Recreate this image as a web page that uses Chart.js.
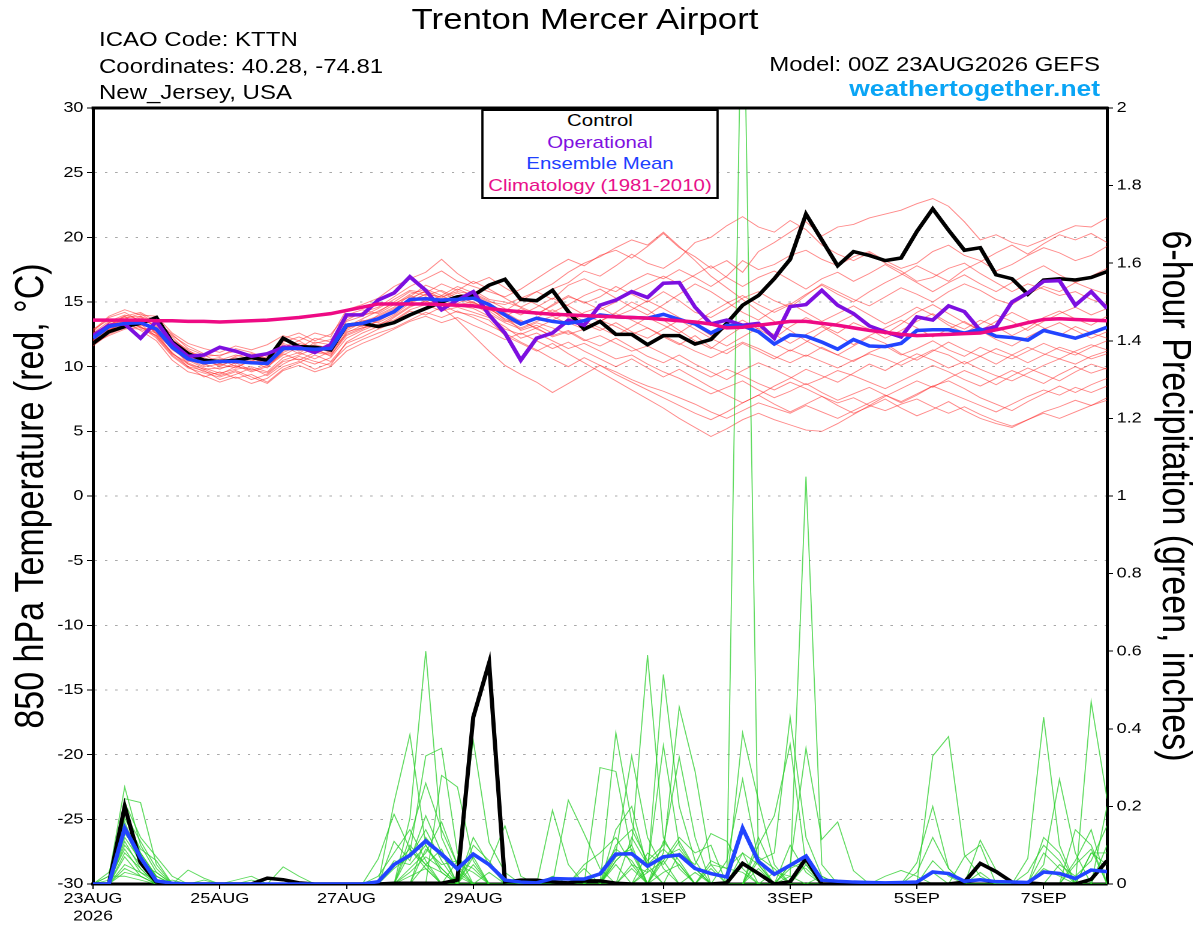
<!DOCTYPE html>
<html>
<head>
<meta charset="utf-8">
<title>Trenton Mercer Airport - GEFS</title>
<script src="https://cdn.jsdelivr.net/npm/chart.js@4/dist/chart.umd.min.js"></script>
<style>
html, body { margin: 0; padding: 0; background: #fff; overflow: hidden; }
/* the source picture is drawn 1000 wide and stretched to 1200 */
#page { position: relative; width: 1000px; height: 927px; transform: scaleX(1.2); transform-origin: 0 0;
        font-family: 'Liberation Sans', Arial, Helvetica, sans-serif; color: #000; }
#page canvas { position: absolute; left: 0; top: 0; }
.txt { position: absolute; white-space: nowrap; line-height: 1; }
#legend { position: absolute; left: 400.8px; top: 109px; width: 198.4px; height: 90px;
          box-sizing: border-box; border: 2px solid #000; background: #fff; }
.leg { position: absolute; left: 400.8px; width: 198.4px; text-align: center; font-size: 17px; line-height: 1; white-space: nowrap; }
</style>
</head>
<body>
<div id="page">
  <canvas id="chart" width="1000" height="927"></canvas>
  <div class="txt" style="left:0; width:975px; text-align:center; top:4.8px; font-size:29px;">Trenton Mercer Airport</div>
  <div class="txt" style="left:82.5px; top:29.1px; font-size:20px;">ICAO Code: KTTN</div>
  <div class="txt" style="left:82.5px; top:55.7px; font-size:20px;">Coordinates: 40.28, -74.81</div>
  <div class="txt" style="left:82.5px; top:82.3px; font-size:20px;">New_Jersey, USA</div>
  <div class="txt" style="right:83.3px; top:54.1px; font-size:20px;">Model: 00Z 23AUG2026 GEFS</div>
  <div class="txt" style="right:83.3px; top:78.4px; font-size:22px; font-weight:bold; color:#0aa5f5;">weathertogether.net</div>
  <div id="legend"></div>
  <div class="leg" style="top:112.1px; color:#000;">Control</div>
  <div class="leg" style="top:133.6px; color:#8010e0;">Operational</div>
  <div class="leg" style="top:155.1px; color:#2040ff;">Ensemble Mean</div>
  <div class="leg" style="top:176.6px; color:#e8108a;">Climatology (1981-2010)</div>
</div>
<script>
/* forecast hours, 00Z 23AUG2026 + 0..384 h every 6 h */
const hours = [0,6,12,18,24,30,36,42,48,54,60,66,72,78,84,90,96,102,108,114,120,126,132,138,144,150,156,162,
  168,174,180,186,192,198,204,210,216,222,228,234,240,246,252,258,264,270,276,282,288,294,300,306,312,318,
  324,330,336,342,348,354,360,366,372,378,384];

/* x axis labels */
const tickHours  = [0, 48, 96, 144, 216, 264, 312, 360];
const tickLabels = [['23AUG', '2026'], '25AUG', '27AUG', '29AUG', '1SEP', '3SEP', '5SEP', '7SEP'];

/* 850 hPa temperature (C) */
const ctlT  = [11.8,12.7,13.1,13.35, 13.8,11.9,11.0,10.5, 10.4,10.5,10.7,10.5, 12.2,11.55,11.5,11.3, 13.2,13.35,13.1,13.4,
  14.0,14.5,15.0,15.4, 15.5,16.3,16.75,15.2, 15.1,15.9,14.25,12.9, 13.5,12.5,12.5,11.7, 12.4,12.4,11.75,12.1,
  13.35,14.75,15.5,16.8, 18.3,21.8,19.8,17.8, 18.9,18.6,18.2,18.4, 20.45,22.2,20.55,19.0, 19.2,17.1,16.8,15.6,
  16.7,16.8,16.7,16.9, 17.35];
const opT   = [12.4,13.2,13.3,12.2, 13.5,11.8,10.8,10.9, 11.5,11.2,10.8,11.0, 11.5,11.5,11.1,11.7, 14.0,14.0,15.15,15.7,
  16.95,15.9,14.4,15.15, 15.8,14.0,12.6,10.5, 12.2,12.6,13.6,13.2, 14.75,15.15,15.8,15.35, 16.45,16.5,14.6,13.3,
  13.6,13.2,13.35,12.2, 14.65,14.8,15.9,14.75, 14.1,13.15,12.7,12.3, 13.85,13.6,14.7,14.25, 12.8,13.1,15.0,15.7,
  16.6,16.65,14.75,15.8, 14.5];
const ensT  = [12.2,13.1,13.35,13.4, 12.9,11.5,10.6,10.3, 10.4,10.4,10.3,10.25, 11.4,11.4,11.35,11.4, 13.2,13.35,13.7,14.25,
  15.2,15.25,15.15,15.2, 15.3,14.8,14.0,13.3, 13.75,13.5,13.35,13.55, 14.0,13.85,13.8,13.75, 14.05,13.65,13.3,12.6,
  13.2,13.15,12.7,11.75, 12.45,12.35,11.9,11.35, 12.1,11.6,11.55,11.8, 12.8,12.85,12.85,12.6, 12.9,12.35,12.25,12.05,
  12.8,12.5,12.2,12.6, 13.05];
const climT = [13.6,13.6,13.6,13.6, 13.55,13.55,13.5,13.5, 13.45,13.5,13.55,13.6, 13.7,13.8,13.95,14.1, 14.35,14.6,14.85,14.85,
  14.85,14.85,14.8,14.75, 14.7,14.5,14.35,14.25, 14.15,14.05,14.0,13.95, 13.9,13.85,13.8,13.75, 13.65,13.55,13.45,13.3,
  13.0,13.05,13.2,13.35, 13.5,13.5,13.35,13.2, 13.0,12.8,12.65,12.5, 12.4,12.45,12.5,12.55, 12.6,12.85,13.1,13.4,
  13.65,13.7,13.65,13.6, 13.55];

/* ensemble members, temperature */
const t01 = [12.6,13.5,14.0,13.6, 13.2,12.0,11.2,10.8, 10.9,11.2,10.6,10.9, 11.9,12.3,11.8,12.1, 13.6,14.2,14.6,15.4, 16.2,16.8,17.4,16.6, 16.2,15.8,15.4,16.0, 16.8,17.6,18.3,17.8, 18.6,19.0,18.4,19.3, 20.3,19.2,18.5,17.6, 18.2,17.3,18.9,19.6, 20.4,21.2,20.1,20.8, 21.0,21.5,21.8,22.1, 22.6,23.0,22.4,21.2, 19.8,20.2,19.6,19.3, 19.8,20.4,20.9,20.8, 21.5];
const t02 = [12.0,13.4,13.8,13.9, 13.4,12.3,11.1,10.7, 10.2,10.8,11.0,10.5, 11.6,11.0,11.9,11.7, 13.8,14.0,14.2,15.0, 15.8,15.5,15.9,15.3, 15.9,15.2,15.0,14.6, 15.2,16.0,16.5,17.4, 17.0,17.8,18.7,18.0, 17.6,18.4,19.6,20.0, 20.9,21.6,20.8,20.4, 21.3,20.6,19.4,18.7, 18.2,18.8,18.0,17.4, 16.6,16.9,17.6,18.0, 17.2,16.5,15.8,16.4, 16.0,15.5,15.8,15.2, 14.8];
const t03 = [12.4,13.0,13.2,13.6, 12.6,11.0,10.2,9.8, 9.9,10.1,9.6,10.0, 10.9,11.5,11.2,11.0, 12.7,13.0,13.5,14.2, 15.0,15.6,15.4,15.8, 15.6,15.0,14.8,15.3, 15.8,15.2,16.3,16.8, 16.2,15.8,16.6,17.2, 16.8,17.5,16.9,16.2, 17.0,18.2,17.5,17.9, 18.6,19.0,18.3,17.8, 18.5,18.9,18.2,17.6, 18.0,18.9,19.4,18.6, 18.2,17.4,17.9,18.6, 19.2,18.8,18.2,18.6, 19.3];
const t04 = [11.8,12.8,13.5,13.2, 13.0,11.8,10.9,10.1, 10.6,10.0,10.4,9.9, 11.2,11.7,11.0,11.6, 13.3,13.1,14.0,14.6, 15.5,15.0,15.5,14.8, 15.0,14.4,13.9,14.5, 14.0,14.8,15.5,14.9, 15.4,16.2,15.6,15.0, 15.8,15.1,14.2,13.8, 14.5,15.3,15.8,15.1, 14.6,15.5,16.4,15.8, 15.2,14.7,15.4,16.1, 15.6,15.0,15.8,16.4, 15.9,15.2,14.8,15.6, 16.2,15.8,16.5,16.0, 15.6];
const t05 = [12.9,13.6,13.1,13.7, 12.5,11.4,10.4,10.6, 10.0,10.6,10.2,10.8, 11.7,11.2,11.6,11.3, 12.9,13.6,13.4,14.0, 14.9,15.4,14.8,15.5, 14.9,14.6,13.6,13.0, 13.5,13.9,13.3,14.2, 14.6,13.9,14.4,15.1, 14.5,13.8,13.2,12.4, 13.0,13.6,12.9,12.2, 13.1,13.8,13.2,12.6, 13.4,12.9,12.2,12.8, 13.5,14.1,13.4,12.9, 13.6,13.1,12.4,13.0, 13.8,14.3,13.7,13.2, 13.9];
const t06 = [12.2,13.2,13.9,13.0, 12.8,11.6,10.2,9.6, 9.4,10.0,9.8,9.5, 10.5,10.9,11.4,10.8, 12.6,13.2,13.0,13.8, 14.6,15.1,14.5,14.9, 15.4,14.6,13.9,12.8, 13.2,12.6,13.4,12.9, 13.6,13.1,12.5,13.0, 12.3,11.7,12.4,11.5, 11.0,11.8,11.2,10.6, 11.3,10.8,11.5,10.9, 10.4,11.1,11.6,10.9, 11.4,12.0,11.3,10.8, 11.5,11.0,10.6,11.2, 11.8,11.3,10.9,11.5, 12.0];
const t07 = [12.5,13.3,13.6,13.1, 12.2,10.8,9.9,9.5, 9.2,9.6,9.0,9.4, 10.4,10.6,10.2,10.7, 12.2,12.8,13.3,13.6, 14.4,14.8,14.3,14.6, 14.2,13.8,13.1,12.2, 12.6,12.0,11.4,11.8, 11.2,10.6,10.9,10.2, 9.6,9.1,8.5,7.9, 8.4,8.9,8.2,7.6, 8.1,8.7,8.0,7.4, 7.9,8.4,7.8,7.2, 7.8,8.5,8.9,8.3, 7.6,7.1,6.6,7.3, 7.9,8.5,8.0,8.6, 9.1];
const t08 = [12.0,12.7,13.0,12.9, 12.4,11.1,10.0,9.2, 9.6,9.1,9.4,8.8, 9.8,10.3,10.9,10.4, 11.8,12.3,12.9,13.4, 13.9,14.5,14.8,14.2, 14.0,13.6,12.4,11.8, 11.2,11.8,11.0,10.3, 9.6,8.9,8.2,7.5, 6.8,6.0,5.3,4.6, 5.2,5.9,6.4,5.9, 5.5,5.1,5.0,5.6, 6.3,7.0,7.7,8.3, 8.9,8.4,9.1,9.7, 9.2,8.6,9.3,9.9, 9.4,8.9,9.6,10.2, 9.8];
const t09 = [12.7,13.8,14.2,13.5, 13.6,12.4,11.6,11.0, 10.8,11.4,11.1,10.6, 12.2,12.6,12.0,12.5, 14.0,14.4,14.1,14.8, 15.6,16.0,15.5,16.2, 15.7,15.1,14.5,14.0, 14.6,15.3,14.7,14.0, 13.5,14.2,15.0,14.4, 13.6,12.8,12.0,11.4, 12.3,13.1,12.6,11.8, 11.2,11.9,12.7,13.4, 14.0,13.2,12.5,13.3, 14.2,14.8,14.1,13.4, 12.8,13.5,14.2,13.6, 13.0,12.4,13.1,12.6, 12.2];
const t10 = [11.9,12.9,13.3,13.8, 13.1,11.9,10.7,10.2, 9.8,10.3,9.7,10.1, 11.0,10.5,11.1,10.9, 12.4,12.9,13.6,14.1, 15.1,15.6,15.0,15.4, 15.0,14.3,13.5,13.6, 12.9,12.4,12.8,12.1, 11.6,12.2,11.5,10.8, 10.3,10.9,10.2,9.6, 9.0,9.7,10.3,9.8, 9.2,8.6,9.1,9.7, 9.3,8.8,8.3,8.9, 9.5,10.1,9.6,9.0, 8.5,9.1,9.7,9.2, 8.7,9.4,10.0,9.5, 9.9];
const t11 = [12.3,13.1,13.7,14.1, 13.3,12.1,11.3,10.5, 10.7,10.2,10.9,10.3, 11.5,12.0,11.3,11.8, 13.1,13.7,14.3,14.9, 15.4,16.3,15.8,15.1, 15.5,14.7,14.3,15.1, 15.8,16.4,17.3,18.0, 18.5,19.2,19.8,19.4, 20.4,19.3,18.2,17.0, 16.1,15.2,14.3,13.5, 12.8,12.0,11.4,10.9, 11.6,12.3,11.8,11.0, 10.5,11.2,11.9,11.3, 10.8,10.2,10.9,11.5, 11.0,10.6,11.2,11.7, 11.3];
const t12 = [12.1,12.6,13.2,13.4, 12.7,11.3,10.5,9.9, 9.5,9.8,10.0,9.6, 10.7,11.1,10.6,11.2, 12.5,13.0,13.2,13.9, 14.7,14.9,15.2,14.7, 14.5,13.9,12.9,12.5, 13.0,12.3,12.7,12.0, 12.4,11.8,11.2,11.6, 11.0,10.4,9.8,9.2, 9.8,9.3,8.7,8.2, 8.8,8.3,7.7,7.2, 7.6,7.0,6.6,7.1, 7.5,6.9,6.4,6.9, 6.3,5.8,5.4,5.9, 6.5,6.9,7.4,7.0, 7.6];
const t13 = [12.8,13.9,14.4,14.0, 13.9,12.6,11.8,11.4, 11.1,11.6,11.3,11.7, 12.4,12.0,12.6,12.3, 14.4,14.8,15.3,16.2, 16.8,17.3,18.3,17.2, 16.4,16.9,16.1,15.4, 14.8,14.2,14.8,15.5, 16.0,15.3,14.6,14.0, 14.8,15.6,16.4,15.8, 15.0,14.2,13.6,14.4, 14.9,14.2,13.5,14.1, 14.7,14.0,13.3,13.9, 14.6,14.0,13.2,12.6, 13.3,14.0,13.5,12.8, 13.5,14.1,14.6,14.0, 14.5];
const t14 = [11.6,12.5,13.0,13.3, 12.3,10.9,10.0,9.7, 9.0,9.4,9.9,9.3, 10.2,10.8,10.4,10.1, 11.9,12.6,13.1,13.5, 14.3,14.0,14.6,13.6, 12.4,11.2,10.1,9.4, 8.8,8.0,8.7,9.4, 10.1,9.6,9.0,8.5, 8.1,7.6,7.1,6.5, 6.0,6.6,7.2,6.8, 6.4,7.0,6.5,6.0, 6.6,7.2,7.8,7.3, 7.9,8.5,8.0,7.5, 7.0,6.5,7.1,7.7, 8.2,7.8,8.4,8.0, 8.5];
const t15 = [12.4,13.4,13.9,14.2, 13.5,12.5,11.4,10.9, 10.3,10.7,10.4,11.0, 11.8,11.4,12.2,11.9, 13.5,13.9,14.5,15.2, 15.9,15.7,16.4,15.9, 16.6,16.0,15.3,14.6, 14.1,14.7,15.4,15.0, 14.4,15.0,15.8,16.4, 17.0,16.4,17.1,17.8, 16.9,16.2,16.9,17.4, 16.7,16.0,16.8,17.3, 16.6,17.2,17.9,17.2, 16.5,15.8,16.5,17.1, 16.4,15.8,16.5,17.2, 17.8,17.1,16.5,17.0, 17.6];
const t16 = [12.6,13.2,13.5,12.8, 12.0,10.5,9.6,9.3, 8.8,9.2,8.7,9.1, 10.0,10.4,9.8,10.3, 11.5,12.1,12.6,13.0, 13.6,14.2,13.8,14.3, 13.8,13.2,12.6,11.9, 11.3,10.6,10.0,10.7, 10.1,9.4,8.8,8.2, 7.6,7.0,6.4,5.9, 6.5,7.2,7.8,8.5, 9.1,9.8,9.3,8.8, 9.5,10.2,9.7,10.4, 11.0,10.5,9.9,10.4, 9.8,9.3,8.9,9.5, 10.1,10.6,10.2,10.8, 11.2];
const t17 = [12.0,13.0,13.6,13.0, 12.6,11.5,10.8,10.4, 10.5,10.9,10.6,10.3, 11.3,11.8,11.5,11.1, 13.0,13.3,13.8,14.4, 15.3,15.8,15.2,15.7, 15.2,14.5,13.7,13.2, 13.8,14.4,13.8,13.3, 12.8,13.4,12.7,12.2, 12.9,13.6,12.9,12.2, 11.6,12.3,13.0,12.5, 11.8,12.5,13.1,12.4, 11.7,12.4,13.0,13.6, 13.0,12.3,12.9,13.5, 12.8,12.1,11.6,12.3, 12.9,13.4,12.8,12.2, 12.7];
const t18 = [12.5,13.3,13.4,13.9, 13.0,11.7,10.6,10.0, 10.2,9.9,10.5,10.1, 11.1,11.6,11.0,11.5, 13.1,13.5,13.9,14.5, 15.2,15.9,15.3,16.0, 15.5,14.9,14.2,13.5, 13.0,13.6,14.2,13.5, 13.0,12.4,13.1,13.8, 13.2,12.6,13.4,14.2, 14.9,15.5,14.8,14.2, 14.8,15.6,16.3,15.6, 15.0,15.8,16.5,17.1, 17.8,17.2,16.6,17.5, 18.1,18.8,19.4,18.7, 19.5,20.2,19.8,20.3, 19.6];
const t19 = [11.8,12.4,12.9,13.1, 12.4,11.0,10.3,9.8, 9.3,9.7,9.2,8.7, 9.7,10.1,9.6,10.0, 11.2,11.8,12.3,12.9, 13.5,13.9,13.4,13.8, 13.2,12.7,12.1,12.6, 12.0,11.4,11.9,11.2, 10.6,10.0,10.6,9.9, 9.2,9.8,9.1,8.4, 7.8,7.2,7.8,7.1, 6.5,7.1,7.7,7.0, 6.4,6.9,7.5,6.8, 6.2,6.7,7.3,6.6, 6.0,5.6,5.3,5.9, 6.4,6.0,6.5,7.0, 7.4];
const t20 = [12.2,12.9,13.1,13.5, 12.9,11.7,10.9,10.5, 10.1,10.5,10.2,10.6, 11.6,11.3,11.7,11.4, 12.8,13.4,13.8,14.2, 15.0,15.4,15.0,15.3, 14.8,14.1,13.4,12.9, 13.4,13.0,12.5,12.9, 13.5,14.1,13.6,13.0, 12.4,11.8,11.2,10.7, 11.3,11.9,11.4,10.8, 10.3,10.9,10.4,9.9, 10.5,11.0,10.6,10.1, 10.7,11.3,10.9,10.2, 10.8,11.4,10.9,10.3, 10.9,11.5,11.1,10.6, 11.0];

/* 6-hour precipitation (inches) */
const ctlP = [0,0,.20,.055, .005,0,0,0, 0,0,0,.015, .011,.003,0,0, 0,0,0,.002, .002,.002,.002,.01, .43,.57,.005,.01,
  .01,.005,.003,.008, .008,.002,0,0, 0,0,0,0, .003,.053,.027,0, .006,.066,0,0, 0,0,0,0, 0,0,0,.005,
  .053,.032,.005,.003, 0,0,0,.012, .06];
const ensP = [0,0,.144,.068, .008,.002,0,0, 0,0,0,0, 0,0,0,0, 0,0,.006,.05, .074,.111,.077,.039, .077,.05,.01,.005,
  .003,.014,.013,.013, .026,.077,.078,.046, .07,.075,.04,.027, .018,.144,.058,.025, .048,.072,.01,.007,
  .005,.004,.003,.004, .005,.031,.027,.007, .011,.006,.005,.004, .031,.027,.014,.036, .032];

/* ensemble members, precipitation */
const p01 = [0,.02,.25,.10, .03,0,0,0, 0,0,0,0, 0,0,0,0, 0,0,0,0, .17,.60,.12,.03, 0,0,0,0, 0,0,0,0, 0,.06,.10,.59, .12,.04,0,0, 0,2.5,.05,0, 0,0,0,0, 0,0,0,0, 0,0,0,0, 0,0,0,0, .05,.27,.08,0, 0];
const p02 = [0,0,.22,.21, .05,0,0,0, 0,0,0,0, 0,0,0,0, 0,0,0,.21, .385,.10,.04,0, 0,0,0,0, 0,0,0,0, 0,.39,.16,.05, 0,0,0,0, 0,0,0,0, .02,1.05,.05,0, 0,0,0,0, 0,.03,0,0, 0,0,0,0, 0,0,0,0, 0];
const p03 = [0,0,.21,.12, .07,.02,0,0, 0,0,0,0, 0,0,0,0, 0,0,0,0, .08,.33,.35,.08, 0,0,0,0, 0,0,0,0, 0,0,.05,.03, .54,.20,.06,0, 0,.39,.215,.05, 0,0,0,0, 0,0,0,0, 0,0,0,0, 0,0,0,0, 0,0,0,.47, .22];
const p04 = [0,0,.19,.08, .02,0,.036,.015, 0,0,0,0, 0,0,0,0, 0,0,.065,.18, .09,.05,0,0, 0,0,0,0, 0,.19,.05,0, 0,0,0,0, .08,.456,.29,.05, 0,0,0,0, 0,0,0,0, 0,0,0,0, 0,.33,.38,.075, .02,0,0,0, 0,0,0,0, 0];
const p05 = [0,0,.18,.11, .04,0,0,0, 0,0,0,0, 0,0,0,0, 0,0,0,0, 0,0,.28,.25, .06,0,0,0, 0,0,0,0, .30,.29,.08,0, 0,0,0,0, 0,0,.06,.08, .43,.12,.02,0, 0,0,0,0, 0,0,0,0, 0,0,0,.066, .43,.10,0,0, 0];
const p06 = [0,0,.17,.09, .06,0,0,0, 0,0,0,0, .044,.02,0,0, 0,0,0,0, 0,0,0,.06, .37,.107,.03,0, 0,0,0,0, 0,0,0,.04, .357,.10,.04,0, 0,0,0,0, .05,.35,.115,.16, .034,0,0,0, 0,0,0,0, 0,0,0,0, 0,0,0,0, 0];
const p07 = [0,.03,.16,.06, 0,0,0,0, 0,0,0,0, 0,0,0,0, 0,0,0,.11, .06,.176,.08,0, 0,0,0,0, 0,0,.216,.13, .04,0,0,0, 0,0,0,0, .06,.27,.06,0, 0,0,0,0, 0,0,0,0, 0,0,0,0, .113,.035,0,0, 0,0,.14,.10, 0];
const p08 = [0,0,.15,.07, .02,0,0,0, 0,0,0,0, 0,0,0,0, 0,0,0,0, .12,.26,.14,.05, 0,0,0,0, 0,0,0,0, 0,.08,.33,.12, .04,0,0,0, 0,0,.10,.176, .36,.05,0,0, 0,0,0,0, .055,.20,.04,0, 0,0,0,0, 0,0,0,0, 0];
const p09 = [0,0,.14,.05, 0,0,0,0, 0,.01,.02,0, 0,0,0,0, 0,0,0,0, 0,0,0,0, .12,.05,.15,.02, 0,0,0,0, 0,0,0,0, 0,.08,.05,.13, .11,.04,0,0, 0,0,0,0, 0,0,.02,.035, .02,0,0,0, 0,0,0,0, 0,0,0,.08, .08];
const p10 = [0,0,.13,.08, .02,0,0,0, 0,0,0,0, 0,0,0,0, 0,0,0,.06, .05,.10,.03,0, 0,0,0,0, 0,0,0,.05, .08,.12,.05,0, 0,0,0,.06, .04,.08,0,0, 0,0,0,0, 0,0,0,0, 0,0,0,0, 0,0,0,0, 0,.05,.02,.06, .15];
const p11 = [0,0,.12,.06, 0,.01,0,0, 0,0,0,0, 0,0,0,0, 0,0,0,0, .04,.08,.16,.05, .03,0,0,0, 0,0,0,0, 0,.10,.14,.06, .10,.327,.12,0, 0,0,0,0, 0,.05,0,0, 0,0,0,0, 0,0,0,.07, .10,0,0,0, 0,0,0,0, 0];
const p12 = [0,0,.11,.04, 0,0,0,0, 0,0,0,0, 0,0,0,0, 0,0,.02,.08, .14,.06,0,0, .08,.05,0,0, 0,0,0,0, 0,0,0,0, .06,.12,.08,.10, 0,0,.12,.03, 0,0,0,0, 0,0,0,0, 0,0,0,0, 0,0,0,0, .08,.04,0,0, .20];
const p13 = [0,0,.10,.05, .03,0,0,0, 0,0,0,0, 0,0,0,0, 0,0,0,0, 0,.12,.07,.04, 0,0,0,0, 0,0,0,0, 0,.14,.20,.04, 0,0,0,0, 0,.08,.05,0, 0,0,0,0, 0,0,0,0, .03,.12,.04,0, 0,0,0,0, 0,0,.06,.14, 0];
const p14 = [0,.01,.09,.03, 0,0,0,0, 0,0,0,0, 0,0,0,0, 0,0,0,0, .10,.05,.09,0, .10,.06,0,0, 0,0,0,0, 0,0,.12,.05, .09,.05,0,0, 0,0,0,0, .10,.03,0,0, 0,0,0,0, 0,0,0,0, 0,0,0,0, .12,.08,0,0, 0];
const p15 = [0,0,.08,.04, 0,0,0,0, 0,0,.01,0, 0,0,0,0, 0,0,0,.04, .07,.14,.06,0, .05,0,0,0, 0,0,0,0, 0,.06,.10,0, .07,.09,.04,0, 0,0,.04,0, 0,0,0,0, 0,0,0,0, 0,0,0,0, 0,0,0,0, 0,0,0,.08, .05];
const p16 = [0,0,.07,.02, 0,0,0,0, 0,0,0,0, 0,0,0,0, 0,0,0,0, 0,.09,.05,.06, .04,0,0,0, 0,0,0,0, .03,.09,.06,0, 0,0,0,.05, .04,.03,0,0, .05,.04,0,0, 0,0,0,0, 0,0,0,0, 0,0,0,.03, .10,.06,0,0, 0];
const p17 = [0,0,.05,.03, .01,0,0,0, 0,0,0,0, 0,0,0,0, 0,0,0,0, .03,.07,.04,0, 0,.03,0,0, 0,0,0,0, 0,0,0,.08, .05,.11,.04,0, 0,0,.07,.04, 0,0,.02,0, 0,0,0,0, 0,0,0,0, 0,0,0,0, 0,0,.05,.09, 0];
const p18 = [0,0,.04,.02, 0,0,0,.01, 0,0,0,0, 0,0,0,0, 0,0,0,.05, .09,.04,0,0, .07,0,0,0, 0,0,0,0, 0,.07,.09,0, .11,.06,0,.04, 0,0,0,0, .04,.06,0,0, 0,0,0,0, 0,.06,.02,0, 0,0,0,0, 0,0,0,0, 0];
const p19 = [0,0,.03,.02, 0,0,0,0, 0,0,0,0, 0,0,0,0, 0,0,0,0, 0,.05,.03,0, 0,0,0,0, 0,.02,0,.04, 0,.05,0,.03, .06,0,.03,0, 0,.05,.03,0, 0,0,0,0, 0,0,0,0, 0,0,0,0, .03,0,0,0, 0,0,0,0, .10];
const p20 = [0,.02,.02,.01, 0,0,0,0, 0,0,0,0, 0,0,0,0, 0,0,0,0, .02,.04,0,.02, 0,0,0,0, 0,0,0,0, 0,0,.04,0, .03,.05,0,0, 0,0,0,.03, .02,0,0,0, 0,0,0,0, 0,0,0,0, 0,0,0,0, .04,.02,0,0, 0];

const tempMembers = [t01,t02,t03,t04,t05,t06,t07,t08,t09,t10,t11,t12,t13,t14,t15,t16,t17,t18,t19,t20];
const precMembers = [p01,p02,p03,p04,p05,p06,p07,p08,p09,p10,p11,p12,p13,p14,p15,p16,p17,p18,p19,p20];

const tickFont = { family: "'Liberation Sans Narrow', 'Liberation Sans', Arial, sans-serif", size: 15, lineHeight: 1.15 };

function series (data, color, width, axis) {
    return { data: data, borderColor: color, backgroundColor: color, borderWidth: width,
             yAxisID: axis, pointRadius: 0, pointHoverRadius: 0, fill: false, tension: 0 };
}

/* top edge of the plot frame */
const frameTop = {
    id: 'frameTop',
    afterDraw (chart) {
        const c = chart.ctx, a = chart.chartArea;
        c.save();
        c.strokeStyle = '#000';
        c.lineWidth = 3;
        c.beginPath();
        c.moveTo(a.left - 1.2, a.top);
        c.lineTo(a.right + 1.2, a.top);
        c.stroke();
        c.restore();
    }
};

try {
    /* first entry is drawn on top */
    const datasets = [
        series(ensP, '#2244ff', 3.5, 'y2'),
        series(ctlP, '#000000', 3.5, 'y2'),
        series(climT, '#ee0a84', 3.5, 'y'),
        series(ensT, '#2244ff', 3.5, 'y'),
        series(opT, '#7d0fe0', 3.5, 'y'),
        series(ctlT, '#000000', 3.5, 'y')
    ];
    precMembers.forEach(m => datasets.push(series(m, 'rgba(40,205,40,0.75)', 0.9, 'y2')));
    tempMembers.forEach(m => datasets.push(series(m, 'rgba(255,40,40,0.55)', 0.9, 'y')));

    new Chart(document.getElementById('chart'), {
        type: 'line',
        data: { labels: hours, datasets: datasets },
        options: {
            responsive: false,
            animation: false,
            devicePixelRatio: 2,
            events: [],
            layout: { padding: { top: 108, left: 0, right: 0, bottom: 0 } },
            plugins: { legend: { display: false }, tooltip: { enabled: false }, title: { display: false } },
            scales: {
                x: {
                    type: 'linear', min: 0, max: 384, position: 'bottom',
                    afterBuildTicks: s => { s.ticks = tickHours.map(v => ({ value: v })); },
                    afterFit: s => { s.height = 43; },
                    ticks: { autoSkip: false, maxRotation: 0, color: '#000', font: tickFont, padding: 1.4,
                             callback: (v, i) => tickLabels[i] },
                    grid: { drawOnChartArea: false, tickLength: 5, tickColor: '#000', tickWidth: 1 },
                    border: { color: '#000', width: 3 }
                },
                y: {
                    position: 'left', min: -30, max: 30,
                    afterFit: s => { s.width = 77.5; },
                    ticks: { stepSize: 5, color: '#000', font: tickFont, padding: 3, callback: v => String(v) },
                    grid: { color: '#a8a8a8', lineWidth: 1, tickColor: '#000', tickLength: 5 },
                    border: { color: '#000', width: 2.5, dash: [2, 6.5] },
                    title: { display: true, text: '850 hPa Temperature (red, °C)', color: '#000',
                             font: { family: "'Liberation Sans', Arial, sans-serif", size: 34 }, padding: { top: 6, bottom: 0 } }
                },
                y2: {
                    position: 'right', min: 0, max: 2,
                    afterFit: s => { s.width = 77.5; },
                    ticks: { stepSize: 0.2, color: '#000', font: tickFont, padding: 3,
                             callback: v => String(Math.round(v * 10) / 10) },
                    grid: { drawOnChartArea: false, tickColor: '#000', tickLength: 5 },
                    border: { color: '#000', width: 2.5 },
                    title: { display: true, text: '6-hour Precipitation (green, inches)', color: '#000',
                             font: { family: "'Liberation Sans', Arial, sans-serif", size: 34 }, padding: { top: 1, bottom: 0 } }
                }
            }
        },
        plugins: [frameTop]
    });
} catch (e) {
    console.error(e.stack);
    throw e;
}
</script>
</body>
</html>
